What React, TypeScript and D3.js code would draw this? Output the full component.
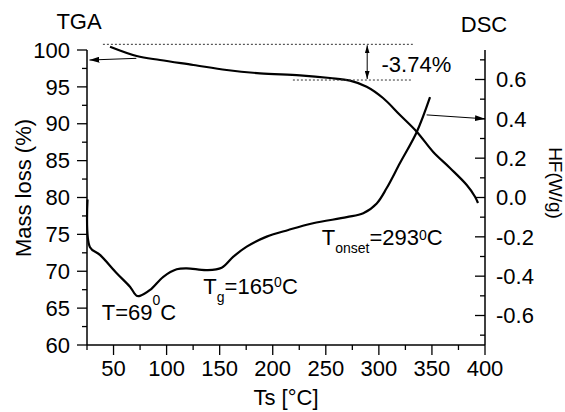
import React from "react";
import * as d3 from "d3";

// TGA: temperature (°C) vs mass (%)
const tgaTemp = [46.7, 71.8, 93.8, 125.2, 156.6, 188.0, 225.7, 254.0, 272.8, 288.5, 303.9, 319.9, 335.7, 351.0, 367.0, 382.8, 390.6, 393.4];
const tgaMass = [100.45, 99.19, 98.64, 97.97, 97.29, 96.84, 96.57, 96.2, 95.84, 95.02, 93.49, 91.19, 88.92, 86.21, 84.0, 81.69, 80.11, 79.25];

// DSC: temperature (°C) vs heat flow (W/g)
const dscTemp = [25.5, 27.8, 37.2, 53.0, 65.5, 71.8, 74.9, 84.4, 96.9, 109.5, 118.9, 137.8, 151.9, 162.9, 175.5, 194.3, 214.7, 238.0, 269.7, 285.3, 298.0, 307.4, 319.9, 335.7, 348.2];
const dscHF = [-0.01, -0.253, -0.292, -0.385, -0.454, -0.5, -0.5, -0.47, -0.403, -0.365, -0.36, -0.369, -0.357, -0.301, -0.25, -0.199, -0.165, -0.131, -0.1, -0.08, -0.03, 0.048, 0.175, 0.333, 0.51];

const xTicks = [50, 100, 150, 200, 250, 300, 350, 400];
const xMinor = [25, 75, 125, 175, 225, 275, 325, 375];
const yLTicks = [60, 65, 70, 75, 80, 85, 90, 95, 100];
const yLMinor = [62.5, 67.5, 72.5, 77.5, 82.5, 87.5, 92.5, 97.5];
const yRTicks = [-0.6, -0.4, -0.2, 0.0, 0.2, 0.4, 0.6];
const yRMinor = [-0.7, -0.5, -0.3, -0.1, 0.1, 0.3, 0.5, 0.7];

// annotation values
const massLevels = [100.77, 95.93]; // dotted reference levels
const lossLabel = "-3.74%";

const W = 565, H = 412;
const FONT = "'Liberation Sans', Arial, sans-serif";

export default function App() {
  const x = d3.scaleLinear().domain([25, 400]).range([87, 485]);
  const yL = d3.scaleLinear().domain([60, 100]).range([345, 50]);
  const yR = d3.scaleLinear().domain([-0.75, 0.75]).range([345, 50]);

  const tgaPath = d3.line<number>()
    .x((_, i) => x(tgaTemp[i]))
    .y((d) => yL(d))
    .curve(d3.curveCatmullRom.alpha(0.5))(tgaMass) as string;
  const dscPath = d3.line<number>()
    .x((_, i) => x(dscTemp[i]))
    .y((d) => yR(d))
    .curve(d3.curveCatmullRom.alpha(0.5))(dscHF) as string;

  const fmtR = (v: number) => (Math.abs(v) < 1e-9 ? "0.0" : d3.format(".1f")(v)).replace("−", "-");
  const left = 87, right = 485, bottom = 345, top = 50;

  return (
    <svg width={W} height={H} style={{ position: "absolute", left: 0, top: 0, background: "#fff" }} fontFamily={FONT}>
      <defs>
        <marker id="ah" viewBox="0 0 10 6" refX="10" refY="3" markerWidth="10" markerHeight="6" markerUnits="userSpaceOnUse" orient="auto">
          <path d="M0,0 L10,3 L0,6 Z" fill="#000" />
        </marker>
        <marker id="ahs" viewBox="0 0 10 6" refX="10" refY="3" markerWidth="8" markerHeight="5" markerUnits="userSpaceOnUse" orient="auto-start-reverse">
          <path d="M0,0 L10,3 L0,6 Z" fill="#000" />
        </marker>
      </defs>

      {/* axes lines */}
      <line x1={left} y1={top} x2={left} y2={bottom} stroke="#000" strokeWidth={1.5} />
      <line x1={left} y1={bottom} x2={right} y2={bottom} stroke="#000" strokeWidth={1.5} />
      <line x1={right} y1={top} x2={right} y2={bottom} stroke="#000" strokeWidth={1.5} />

      {/* bottom ticks */}
      {xTicks.map((t) => (
        <g key={"xt" + t}>
          <line x1={x(t)} x2={x(t)} y1={bottom} y2={bottom + 10} stroke="#000" strokeWidth={1.3} />
          <text x={x(t)} y={376} fontSize={22} textAnchor="middle">{t}</text>
        </g>
      ))}
      {xMinor.map((t) => (
        <line key={"xm" + t} x1={x(t)} x2={x(t)} y1={bottom} y2={bottom + 5} stroke="#000" strokeWidth={1.3} />
      ))}

      {/* left ticks */}
      {yLTicks.map((t) => (
        <g key={"yl" + t}>
          <line x1={left - 10} x2={left} y1={yL(t)} y2={yL(t)} stroke="#000" strokeWidth={1.3} />
          <text x={70} y={yL(t)} dy="0.35em" fontSize={22} textAnchor="end">{t}</text>
        </g>
      ))}
      {yLMinor.map((t) => (
        <line key={"ylm" + t} x1={left - 5} x2={left} y1={yL(t)} y2={yL(t)} stroke="#000" strokeWidth={1.3} />
      ))}

      {/* right ticks (inward) */}
      {yRTicks.map((t) => (
        <g key={"yr" + t}>
          <line x1={right - 10} x2={right} y1={yR(t)} y2={yR(t)} stroke="#000" strokeWidth={1.3} />
          <text x={496} y={yR(t)} dy="0.35em" fontSize={22} textAnchor="start">{fmtR(t)}</text>
        </g>
      ))}
      {yRMinor.map((t) => (
        <line key={"yrm" + t} x1={right - 5} x2={right} y1={yR(t)} y2={yR(t)} stroke="#000" strokeWidth={1.3} />
      ))}

      {/* titles and axis labels */}
      <text x={79} y={29} fontSize={22} textAnchor="middle">TGA</text>
      <text x={484} y={32} fontSize={22} textAnchor="middle">DSC</text>
      <text x={286} y={405} fontSize={22} textAnchor="middle">Ts [°C]</text>
      <text transform="translate(31,188) rotate(-90)" fontSize={22} textAnchor="middle">Mass loss (%)</text>
      <text transform="translate(549,183) rotate(90)" fontSize={19} textAnchor="middle">HF(W/g)</text>

      {/* curves */}
      <path d={tgaPath} fill="none" stroke="#000" strokeWidth={2.2} />
      <path d={dscPath} fill="none" stroke="#000" strokeWidth={2.2} />

      {/* dotted reference lines */}
      <line x1={x(40)} x2={x(332)} y1={yL(massLevels[0])} y2={yL(massLevels[0])} stroke="#333" strokeWidth={1} strokeDasharray="2,2" />
      <line x1={x(219)} x2={x(332)} y1={yL(massLevels[1])} y2={yL(massLevels[1])} stroke="#333" strokeWidth={1} strokeDasharray="2,2" />
      <line x1={x(289)} x2={x(289)} y1={yL(massLevels[0]) + 1} y2={yL(massLevels[1]) - 1} stroke="#000" strokeWidth={1} markerStart="url(#ahs)" markerEnd="url(#ahs)" />
      <text x={381.5} y={72} fontSize={22}>{lossLabel}</text>

      {/* pointer arrows */}
      <line x1={x(71.5)} y1={yL(98.87)} x2={x(27.3)} y2={yL(98.64)} stroke="#000" strokeWidth={1} markerEnd="url(#ah)" />
      <line x1={x(345)} y1={yR(0.42)} x2={x(400)} y2={yR(0.4)} stroke="#000" strokeWidth={1} markerEnd="url(#ah)" />

      {/* peak annotations */}
      <text x={101.7} y={320} fontSize={22}>
        T=69<tspan fontSize={14} dy={-15}>0</tspan><tspan fontSize={22} dy={15}>C</tspan>
      </text>
      <text x={203.3} y={294} fontSize={22}>
        T<tspan fontSize={14} dy={8}>g</tspan><tspan fontSize={22} dy={-8}>=165</tspan><tspan fontSize={14} dy={-7}>0</tspan><tspan fontSize={22} dy={7}>C</tspan>
      </text>
      <text x={321.7} y={245} fontSize={22}>
        T<tspan fontSize={14} dy={8}>onset</tspan><tspan fontSize={22} dy={-8}>=293</tspan><tspan fontSize={14} dy={-5}>0</tspan><tspan fontSize={22} dy={5}>C</tspan>
      </text>
    </svg>
  );
}
